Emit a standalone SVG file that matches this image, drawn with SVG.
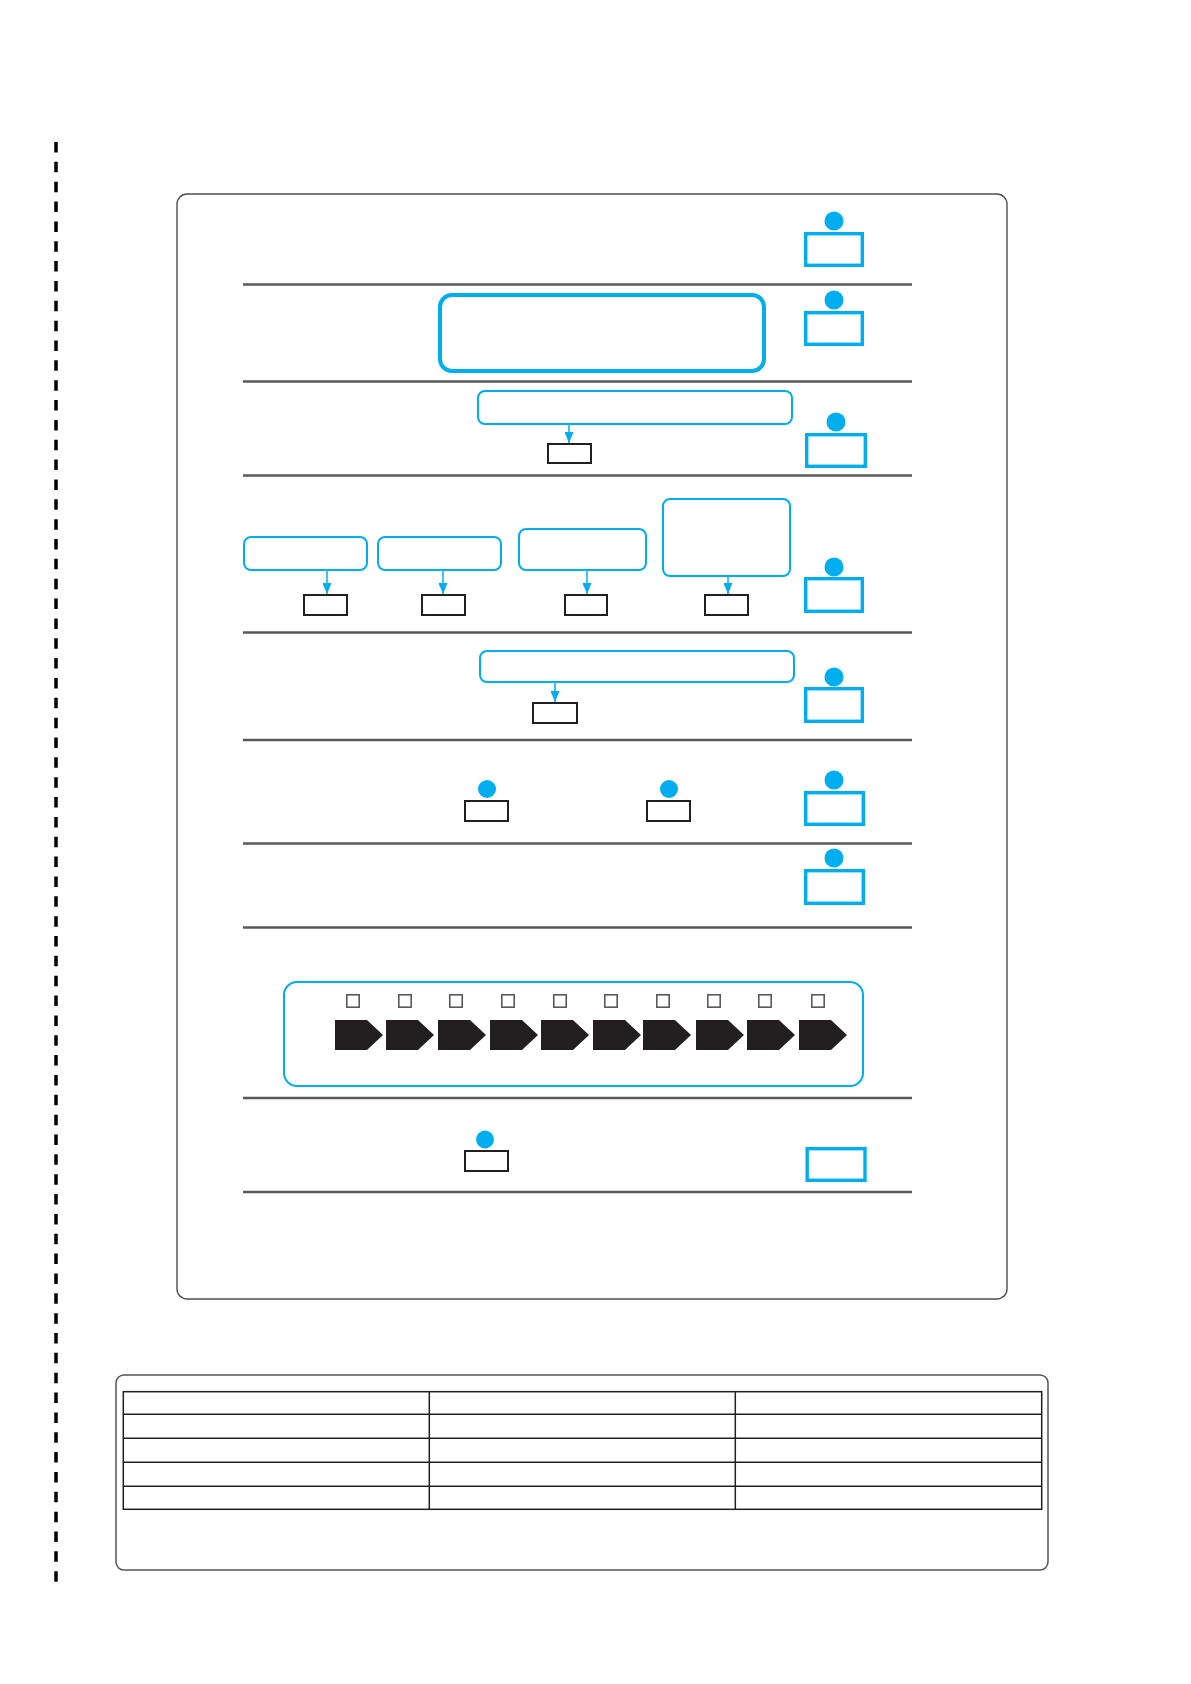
<svg xmlns="http://www.w3.org/2000/svg" width="1191" height="1684" viewBox="0 0 1191 1684">
<style>
.frame{fill:none;stroke:#4d4d4f;stroke-width:1.4}
.sep{stroke:#58595b;stroke-width:2.7}
.bluebox{fill:#fff;stroke:#00aeef;stroke-width:2}
.pbox{fill:#fff;stroke:#00aeef;stroke-width:3.4}
.head{fill:#00aeef}
.kbox{fill:#fff;stroke:#231f20;stroke-width:2}
.sq{fill:#fff;stroke:#58595b;stroke-width:1.6}
.pent{fill:#231f20}
.conn{stroke:#00aeef;stroke-width:1.5;fill:none}
.tbl{fill:none;stroke:#231f20;stroke-width:1.5}
</style>
<defs>
<marker id="ah" markerUnits="userSpaceOnUse" viewBox="0 0 11 9" refX="11" refY="4.5" markerWidth="11" markerHeight="9" orient="auto">
<path d="M0,0 L11,4.5 L0,9 z" fill="#00aeef"/>
</marker>
</defs>
<rect width="1191" height="1684" fill="#fff"/>
<line x1="56" y1="142" x2="56" y2="1586" stroke="#000" stroke-width="3.5" stroke-dasharray="10.5 9.35"/>
<rect id="main-frame" class="frame" x="177" y="194" width="830" height="1105" rx="10"/>
<g id="separators">
<line class="sep" x1="243" y1="284.5" x2="912" y2="284.5"/>
<line class="sep" x1="243" y1="381.5" x2="912" y2="381.5"/>
<line class="sep" x1="243" y1="475.5" x2="912" y2="475.5"/>
<line class="sep" x1="243" y1="632.5" x2="912" y2="632.5"/>
<line class="sep" x1="243" y1="740" x2="912" y2="740"/>
<line class="sep" x1="243" y1="843.5" x2="912" y2="843.5"/>
<line class="sep" x1="243" y1="927.5" x2="912" y2="927.5"/>
<line class="sep" x1="243" y1="1098" x2="912" y2="1098"/>
<line class="sep" x1="243" y1="1192" x2="912" y2="1192"/>
</g>
<g id="p1"><circle class="head" cx="834" cy="221" r="9.5"/><rect class="pbox" x="805.7" y="233.7" width="56.6" height="31.6"/></g>
<g id="p2"><circle class="head" cx="834" cy="300" r="9.5"/><rect class="pbox" x="805.7" y="312.7" width="56.6" height="31.6"/></g>
<g id="p3"><circle class="head" cx="836" cy="422" r="9.5"/><rect class="pbox" x="806.7" y="434.7" width="58.6" height="31.6"/></g>
<g id="p4"><circle class="head" cx="834" cy="567" r="9.5"/><rect class="pbox" x="805.7" y="578.7" width="56.6" height="32.6"/></g>
<g id="p5"><circle class="head" cx="834" cy="677" r="9.5"/><rect class="pbox" x="805.7" y="688.7" width="56.6" height="32.6"/></g>
<g id="p6"><circle class="head" cx="834" cy="780" r="9.5"/><rect class="pbox" x="805.7" y="792.7" width="57.6" height="31.6"/></g>
<g id="p7"><circle class="head" cx="834" cy="858" r="9.5"/><rect class="pbox" x="805.7" y="870.7" width="57.6" height="32.6"/></g>
<g id="p8"><rect class="pbox" x="807.2" y="1148.7" width="57.8" height="31.6"/></g>
<g id="big-box"><rect x="440" y="295" width="324" height="76" rx="12" fill="#fff" stroke="#00aeef" stroke-width="4"/></g>
<g id="r3-box"><rect class="bluebox" x="478" y="391" width="314" height="33" rx="7"/></g>
<g id="r3-k"><rect class="kbox" x="548" y="444" width="43" height="19"/></g>
<g id="r4-box1"><rect class="bluebox" x="244" y="537" width="123" height="33" rx="7"/></g>
<g id="r4-box2"><rect class="bluebox" x="378" y="537" width="123" height="33" rx="7"/></g>
<g id="r4-box3"><rect class="bluebox" x="519" y="529" width="127" height="41" rx="7"/></g>
<g id="r4-box4"><rect class="bluebox" x="663" y="499" width="127" height="77" rx="7"/></g>
<g id="r4-k1"><rect class="kbox" x="304" y="595" width="43" height="20"/></g>
<g id="r4-k2"><rect class="kbox" x="422" y="595" width="43" height="20"/></g>
<g id="r4-k3"><rect class="kbox" x="565" y="595" width="42" height="20"/></g>
<g id="r4-k4"><rect class="kbox" x="705" y="595" width="43" height="20"/></g>
<g id="r5-box"><rect class="bluebox" x="480" y="651" width="314" height="31" rx="7"/></g>
<g id="r5-k"><rect class="kbox" x="533" y="703" width="44" height="20"/></g>
<g id="r6-a"><circle class="head" cx="487" cy="789" r="9"/><rect class="kbox" x="465" y="801" width="43" height="20"/></g>
<g id="r6-b"><circle class="head" cx="669" cy="789" r="9"/><rect class="kbox" x="647" y="801" width="43" height="20"/></g>
<g id="r9-a"><circle class="head" cx="485" cy="1139.5" r="9"/><rect class="kbox" x="465" y="1151" width="43" height="20"/></g>
<g id="process-strip">
<rect class="bluebox" x="284" y="982" width="579" height="104" rx="13"/>
<rect class="sq" x="346.8" y="994.8" width="12.4" height="12.4"/>
<rect class="sq" x="398.8" y="994.8" width="12.4" height="12.4"/>
<rect class="sq" x="449.8" y="994.8" width="12.4" height="12.4"/>
<rect class="sq" x="501.8" y="994.8" width="12.4" height="12.4"/>
<rect class="sq" x="553.8" y="994.8" width="12.4" height="12.4"/>
<rect class="sq" x="604.8" y="994.8" width="12.4" height="12.4"/>
<rect class="sq" x="656.8" y="994.8" width="12.4" height="12.4"/>
<rect class="sq" x="707.8" y="994.8" width="12.4" height="12.4"/>
<rect class="sq" x="758.8" y="994.8" width="12.4" height="12.4"/>
<rect class="sq" x="811.8" y="994.8" width="12.4" height="12.4"/>
<path class="pent" d="M335,1020 h32 l16,15 l-16,15 h-32 z"/>
<path class="pent" d="M386,1020 h32 l16,15 l-16,15 h-32 z"/>
<path class="pent" d="M438,1020 h32 l16,15 l-16,15 h-32 z"/>
<path class="pent" d="M490,1020 h32 l16,15 l-16,15 h-32 z"/>
<path class="pent" d="M541,1020 h32 l16,15 l-16,15 h-32 z"/>
<path class="pent" d="M593,1020 h32 l16,15 l-16,15 h-32 z"/>
<path class="pent" d="M643,1020 h32 l16,15 l-16,15 h-32 z"/>
<path class="pent" d="M696,1020 h32 l16,15 l-16,15 h-32 z"/>
<path class="pent" d="M747,1020 h32 l16,15 l-16,15 h-32 z"/>
<path class="pent" d="M799,1020 h32 l16,15 l-16,15 h-32 z"/>
</g>
<g id="connectors">
<line class="conn" x1="569" y1="425" x2="569" y2="443" marker-end="url(#ah)"/>
<line class="conn" x1="327" y1="571" x2="327" y2="594" marker-end="url(#ah)"/>
<line class="conn" x1="443" y1="571" x2="443" y2="594" marker-end="url(#ah)"/>
<line class="conn" x1="587" y1="571" x2="587" y2="594" marker-end="url(#ah)"/>
<line class="conn" x1="728" y1="577" x2="728" y2="594" marker-end="url(#ah)"/>
<line class="conn" x1="555" y1="683" x2="555" y2="702" marker-end="url(#ah)"/>
</g>
<g id="table">
<rect x="116" y="1375" width="932" height="195" rx="8" fill="none" stroke="#555" stroke-width="1.5"/>
<rect class="tbl" x="123.3" y="1391.7" width="918.4" height="117.6"/>
<line class="tbl" x1="123.3" y1="1414.3" x2="1041.7" y2="1414.3"/>
<line class="tbl" x1="123.3" y1="1438.3" x2="1041.7" y2="1438.3"/>
<line class="tbl" x1="123.3" y1="1462.3" x2="1041.7" y2="1462.3"/>
<line class="tbl" x1="123.3" y1="1486.3" x2="1041.7" y2="1486.3"/>
<line class="tbl" x1="429.3" y1="1391.7" x2="429.3" y2="1509.3"/>
<line class="tbl" x1="735.3" y1="1391.7" x2="735.3" y2="1509.3"/>
</g>
</svg>
